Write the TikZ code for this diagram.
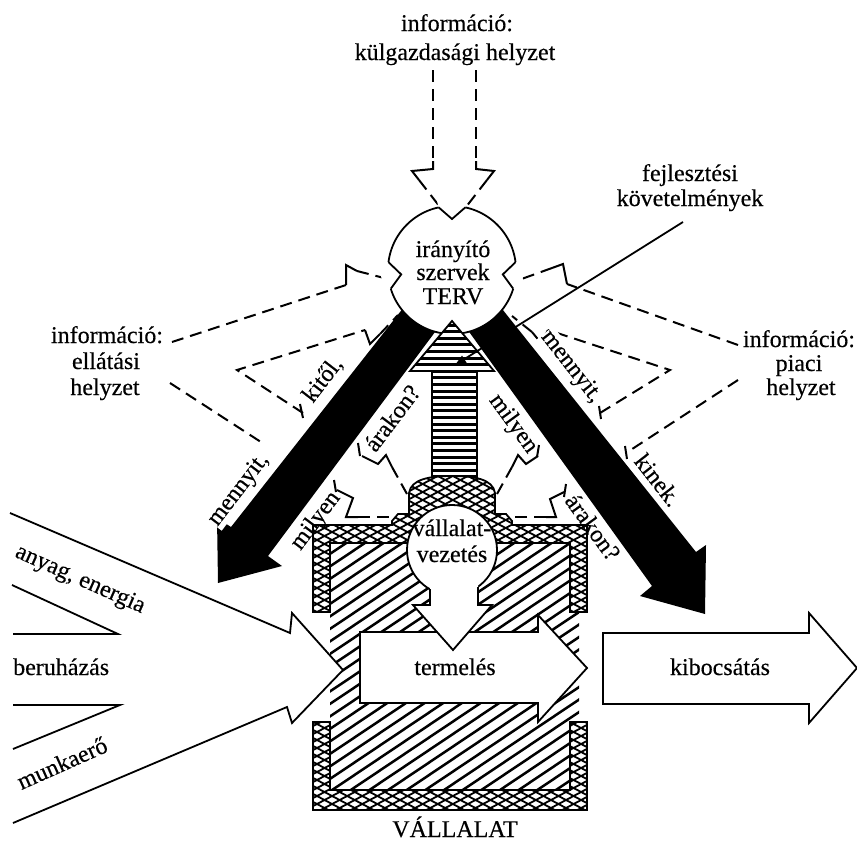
\documentclass[tikz,border=0pt]{standalone}
\usepackage{fontspec}
\setmainfont{Liberation Serif}[FakeBold=0.35]
\usetikzlibrary{arrows.meta}

% two families of crossing lines, used inside a clipped scope
\newcommand{\crosslines}{%
  \foreach \hc in {140,148,...,680} {\draw[crossline] (300,{\hc+159}) -- (600,{\hc+318});}%
  \foreach \hc in {620,628,...,1140} {\draw[crossline] (300,{\hc-159}) -- (600,{\hc-318});}%
}

\begin{document}
\begin{tikzpicture}[x=1pt, y=-1pt,
  txt/.style={font=\fontsize{24}{26}\selectfont, inner sep=0pt},
  outline/.style={line width=1.8pt, line join=miter},
  infoline/.style={line width=2pt, dash pattern=on 12pt off 7pt},
  boltline/.style={line width=2pt, line join=miter},
  tickmark/.style={line width=2pt},
  hatchline/.style={line width=2.5pt},
  crossline/.style={line width=1.8pt},
  stripe/.style={line width=3pt},
  edgelabel/.style={txt, fill=white, inner sep=0.5pt},
  sidelabel/.style={txt},
]
\useasboundingbox (0,0) rectangle (857,841);
\fill[white] (0,0) rectangle (857,841);

% ---------- outer captions
\node[txt, anchor=base] (kulso1) at (457,31) {információ:};
\node[txt, anchor=base] (kulso2) at (455,60) {külgazdasági helyzet};
\node[txt, anchor=base] (fejl1) at (690,181) {fejlesztési};
\node[txt, anchor=base] (fejl2) at (690,206) {követelmények};
\node[txt, anchor=base] (ell1) at (107,343) {információ:};
\node[txt, anchor=base] (ell2) at (106,369) {ellátási};
\node[txt, anchor=base] (ell3) at (105,395) {helyzet};
\node[txt, anchor=base] (pia1) at (799,347) {információ:};
\node[txt, anchor=base] (pia2) at (799,371) {piaci};
\node[txt, anchor=base] (pia3) at (801,395) {helyzet};

% ---------- dashed information arrow from the top
\draw[infoline] (433,70) -- (433,169);
\draw[infoline] (476,70) -- (476,169);
\draw[boltline] (433,161) -- (433,169) -- (412,171) -- (419,180);
\draw[boltline] (476,161) -- (476,169) -- (494,171) -- (487,180);
\draw[infoline] (419,180) -- (440,207);
\draw[infoline] (487,180) -- (466,207);

% ---------- left information lines
\draw[infoline] (172,342) -- (346,285);
\draw[boltline] (346,285) -- (346,265) -- (357,271);
\draw[infoline] (357,271) -- (388,279);
\draw[infoline] (303,413) -- (237,370) -- (365,330);
\draw[boltline] (365,330) -- (370,344) -- (380,334);
\draw[infoline] (380,334) -- (398,315);
\draw[infoline] (170,383) -- (264,444);
\draw[boltline] (362,456) -- (378,464) -- (386,455) -- (392,467);
\draw[infoline] (392,467) -- (407,494);
\draw[boltline] (337,490) -- (353,498) -- (346,517) -- (358,517);
\draw[infoline] (358,517) -- (392,517);

% ---------- right information lines
\draw[infoline] (738,345) -- (567,284);
\draw[boltline] (567,284) -- (563,264) -- (552,268);
\draw[infoline] (552,268) -- (516,281);
\draw[infoline] (600,413) -- (670,370) -- (548,330);
\draw[boltline] (548,330) -- (541,343) -- (532,332);
\draw[infoline] (532,332) -- (512,316);
\draw[infoline] (738,380) -- (626,453);
\draw[boltline] (538,456) -- (526,464) -- (518,455) -- (512,467);
\draw[infoline] (512,467) -- (497,494);
\draw[boltline] (564,492) -- (550,499) -- (556,517) -- (546,517);
\draw[infoline] (546,517) -- (512,517);

% ---------- thick black arrows
\fill (437,265) -- (231,527) -- (217,518) -- (218,583) -- (282,566) -- (268,556) -- (485,265) -- cycle;
\fill (467,265) -- (696,552) -- (706,545) -- (705,614) -- (640,596) -- (652,586) -- (421,265) -- cycle;

% ---------- notched circle of the directing bodies
\coordinate (C) at (452,270);
\draw[outline, fill=white] (C) circle[radius=64pt];
\fill[white] (465.3,207.4) -- (452,219) -- (438.7,207.4) -- (437,201) -- (452,199) -- (467,201) -- cycle;
\draw[outline] (465.3,207.4) -- (452,219) -- (438.7,207.4);
\fill[white] (388.5,262.2) -- (401.2,274.4) -- (390.8,288.7) -- (384,291) -- (381,276) -- (382,261) -- cycle;
\draw[outline] (388.5,262.2) -- (401.2,274.4) -- (390.8,288.7);
\fill[white] (515.5,262.2) -- (502.8,274.4) -- (513.2,288.7) -- (520,291) -- (523,276) -- (522,261) -- cycle;
\draw[outline] (515.5,262.2) -- (502.8,274.4) -- (513.2,288.7);
\node[txt, anchor=base] (irany) at (453,257) {irányító};
\node[txt, anchor=base] (szerv) at (453,280) {szervek};
\node[txt, anchor=base] (terv) at (453,304) {TERV};

% ---------- striped upward arrow
\begin{scope}
  \clip (452,321) -- (494,371) -- (477,371) -- (477,484) -- (432,484) -- (432,371) -- (410,371) -- cycle;
  \fill[white] (405,315) rectangle (500,490);
  \foreach \hy in {325,331.6,...,490} {\draw[stripe] (400,\hy) -- (500,\hy);}
\end{scope}
\draw[outline] (432,484) -- (432,371) -- (410,371) -- (452,321) -- (494,371) -- (477,371) -- (477,484);

% ---------- company block: diagonal hatching
\begin{scope}
  \clip (330,543) rectangle (579,790);
  \foreach \hc in {750,762.5,...,1180} {\draw[hatchline] (320,{\hc-0.67*320}) -- (600,{\hc-0.67*600});}
\end{scope}

% upper frame with collar
\begin{scope}
  \clip (313,612) -- (313,525) -- (392,525) -- (392,521) -- (398,514) -- (409,514) -- (409,493)
    .. controls (411,479) and (430,476) .. (452,476) .. controls (474,476) and (493,479) .. (495,493)
    -- (495,514) -- (506,514) -- (512,521) -- (512,525) -- (587,525) -- (587,612) -- (570,612)
    -- (570,543) -- (330,543) -- (330,612) -- cycle;
  \fill[white] (300,470) rectangle (600,620);
  \crosslines
\end{scope}
\draw[outline] (313,612) -- (313,525) -- (392,525) -- (392,521) -- (398,514) -- (409,514) -- (409,493)
    .. controls (411,479) and (430,476) .. (452,476) .. controls (474,476) and (493,479) .. (495,493)
    -- (495,514) -- (506,514) -- (512,521) -- (512,525) -- (587,525) -- (587,612) -- (570,612)
    -- (570,543) -- (330,543) -- (330,612) -- cycle;

% lower frame
\begin{scope}
  \clip (313,722) -- (313,810) -- (587,810) -- (587,722) -- (570,722) -- (570,790) -- (330,790) -- (330,722) -- cycle;
  \fill[white] (300,715) rectangle (600,815);
  \crosslines
\end{scope}
\draw[outline] (313,722) -- (313,810) -- (587,810) -- (587,722) -- (570,722) -- (570,790) -- (330,790) -- (330,722) -- cycle;

% ---------- inputs
\draw[outline, fill=white] (10,513) -- (290,633) -- (292,613) -- (343,670) -- (292,723) -- (287,707) -- (13,823);
\draw[outline] (12,585) -- (118,634) -- (13,634);
\draw[outline] (13,705) -- (120,705) -- (13,749);
\node[txt, rotate=-24] (anyag) at (80,580) {anyag, energia};
\node[txt, anchor=base west] (beruh) at (13,675) {beruházás};
\node[txt, rotate=24] (munka) at (62,763) {munkaerő};

% ---------- production and output
\draw[outline, fill=white] (360,632) -- (538,632) -- (538,615) -- (587,668) -- (538,722) -- (538,703) -- (360,703) -- cycle;
\node[txt, anchor=base] (term) at (455,675) {termelés};
\draw[outline, fill=white] (603,633) -- (809,633) -- (809,613) -- (857,668) -- (809,723) -- (809,704) -- (603,704) -- cycle;
\node[txt, anchor=base] (kibo) at (720,675) {kibocsátás};

% ---------- management circle with its arrow
\draw[outline, fill=white] (452,550) circle[radius=45pt];
\fill[white] (430,575) -- (430,605) -- (413,605) -- (453,650) -- (492,605) -- (478,605) -- (478,575) -- cycle;
\draw[outline] (430,589) -- (430,605) -- (413,605) -- (453,650) -- (492,605) -- (478,605) -- (478,587);
\node[txt, anchor=base] (vall1) at (452,536) {vállalat-};
\node[txt, anchor=base] (vall2) at (452,562) {vezetés};
\node[txt, anchor=base] (vallalat) at (455,837) {VÁLLALAT};

% ---------- questions along the black arrows
\node[edgelabel, rotate=52.5] (lmenny) at (239,490) {mennyit,};
\node[edgelabel, rotate=52.5] (lkitol) at (323,380) {kitől,};
\node[sidelabel, rotate=53] (larak) at (392,418) {árakon?};
\node[sidelabel, rotate=53] (lmily) at (316,521) {milyen};
\node[edgelabel, rotate=-52] (rmenny) at (571,367) {mennyit,};
\node[edgelabel, rotate=-52] (rkinek) at (658,480) {kinek.};
\node[sidelabel, rotate=-54] (rmily) at (513,424) {milyen};
\node[sidelabel, rotate=-54] (rarak) at (593,527) {árakon?};

% ---------- ticks where the information lines meet the questions
\draw[tickmark] (300,404) -- (303,418);
\draw[tickmark] (358,443) -- (360,456);
\draw[tickmark] (334,480) -- (336,492);
\draw[tickmark] (599,406) -- (601,419);
\draw[tickmark] (625,446) -- (627,459);
\draw[tickmark] (539,445) -- (537,457);
\draw[tickmark] (566,484) -- (564,497);

% ---------- development requirements
\draw[line width=1.8pt, -{Triangle[length=11pt,width=8pt]}] (683,222) -- (455,365);
\end{tikzpicture}
\end{document}
